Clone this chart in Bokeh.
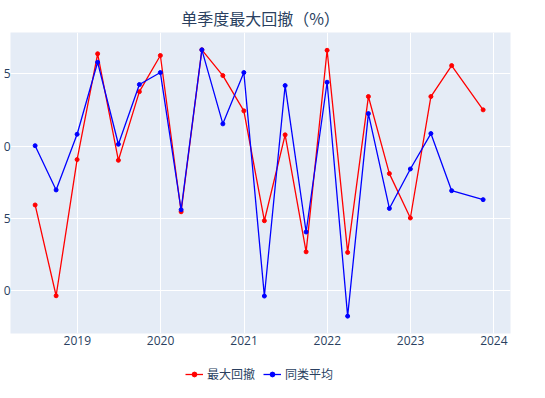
import pandas as pd
from bokeh.plotting import figure
from bokeh.layouts import column
from bokeh.models import (FixedTicker, DatetimeTickFormatter, Legend, LegendItem,
                          ColumnDataSource, Range1d)
from bokeh.embed import file_html
from bokeh.resources import INLINE

dates = ["2018-06-30", "2018-09-30", "2018-12-31", "2019-03-31", "2019-06-30",
         "2019-09-30", "2019-12-31", "2020-03-31", "2020-06-30", "2020-09-30",
         "2020-12-31", "2021-03-31", "2021-06-30", "2021-09-30", "2021-12-31",
         "2022-03-31", "2022-06-30", "2022-09-30", "2022-12-31", "2023-03-31",
         "2023-06-30", "2023-11-15"]
max_drawdown = [-14.07, -20.35, -10.93, -3.61, -10.98, -6.23, -3.73, -14.54,
                -3.34, -5.12, -7.56, -15.16, -9.22, -17.31, -3.37, -17.35,
                -6.57, -11.90, -14.97, -6.57, -4.43, -7.49]
peer_avg = [-9.97, -13.03, -9.18, -4.20, -9.87, -5.74, -4.91, -14.40,
            -3.34, -8.46, -4.91, -20.37, -5.81, -15.94, -5.58, -21.76,
            -7.75, -14.31, -11.58, -9.13, -13.08, -13.70]
series_names = ["最大回撤", "同类平均"]
series_colors = ["#FF0000", "#0000FF"]
year_ticks = ["2019-01-01", "2020-01-01", "2021-01-01", "2022-01-01",
              "2023-01-01", "2024-01-01"]
y_ticks = [-20, -15, -10, -5]
y_tick_labels = {-5: "5", -10: "0", -15: "5", -20: "0"}

x = pd.to_datetime(dates)
src = ColumnDataSource(dict(x=x, a=max_drawdown, b=peer_avg))

font_color = "#2a3f5f"
p = figure(frame_width=500, frame_height=301, x_axis_type="datetime",
           output_backend="svg", toolbar_location=None,
           x_range=Range1d(pd.Timestamp("2018-03-14"), pd.Timestamp("2024-03-14")),
           y_range=Range1d(-22.96, -2.14),
           min_border_left=0, min_border_right=18, min_border_top=4,
           min_border_bottom=0)
p.background_fill_color = "#E5ECF6"
p.border_fill_color = "white"
p.outline_line_color = None

p.title.text = "单季度最大回撤（%）"
p.title.text_font = "Noto Sans CJK SC"
p.title.text_font_size = "16px"
p.title.text_font_style = "normal"
p.title.text_color = font_color
p.title.align = "center"
p.title.standoff = 6

for col, color in zip(["a", "b"], series_colors):
    p.line("x", col, source=src, line_color=color, line_width=1.3)
    p.scatter("x", col, source=src, fill_color=color, line_color=color, size=4)

p.xaxis.ticker = FixedTicker(ticks=[pd.Timestamp(t).value / 1e6 for t in year_ticks])
p.xaxis.formatter = DatetimeTickFormatter(years="%Y", months="%Y", days="%Y")
p.yaxis.ticker = FixedTicker(ticks=y_ticks)
p.yaxis.major_label_overrides = y_tick_labels
for ax in (p.xaxis, p.yaxis):
    ax.axis_line_color = None
    ax.major_tick_line_color = None
    ax.minor_tick_line_color = None
    ax.major_tick_out = 0
    ax.minor_tick_out = 0
    ax.major_label_text_font = "Open Sans"
    ax.major_label_text_font_size = "12px"
    ax.major_label_text_color = font_color
p.yaxis.major_label_standoff = 0
p.xaxis.major_label_standoff = 2

p.grid.grid_line_color = "white"
p.grid.grid_line_width = 1
p.xgrid.ticker = p.xaxis.ticker
p.ygrid.ticker = p.yaxis.ticker

# legend strip: same series drawn outside its visible range, only the legend shows
lg = figure(width=529, height=36, output_backend="svg", toolbar_location=None,
            x_range=Range1d(0, 1), y_range=Range1d(0, 1),
            min_border_left=0, min_border_right=0, min_border_top=0,
            min_border_bottom=0)
lg.axis.visible = False
lg.grid.visible = False
lg.outline_line_color = None
lg.background_fill_color = "white"
items = []
for col, name, color in zip(["a", "b"], series_names, series_colors):
    r1 = lg.line("x", col, source=src, line_color=color, line_width=1.3)
    r2 = lg.scatter("x", col, source=src, fill_color=color, line_color=color, size=4)
    items.append(LegendItem(label=name, renderers=[r1, r2]))
legend = Legend(items=items, orientation="horizontal", location=(175, 1))
legend.label_text_font = "Noto Sans CJK SC"
legend.label_text_font_size = "12px"
legend.label_text_color = font_color
legend.glyph_width = 18
legend.glyph_height = 12
legend.label_standoff = 4
legend.spacing = 8
legend.padding = 2
legend.margin = 0
legend.border_line_color = None
legend.background_fill_alpha = 0
lg.add_layout(legend, "center")

layout = column(p, lg, spacing=0)
open("out.html", "w").write(file_html(layout, INLINE))
